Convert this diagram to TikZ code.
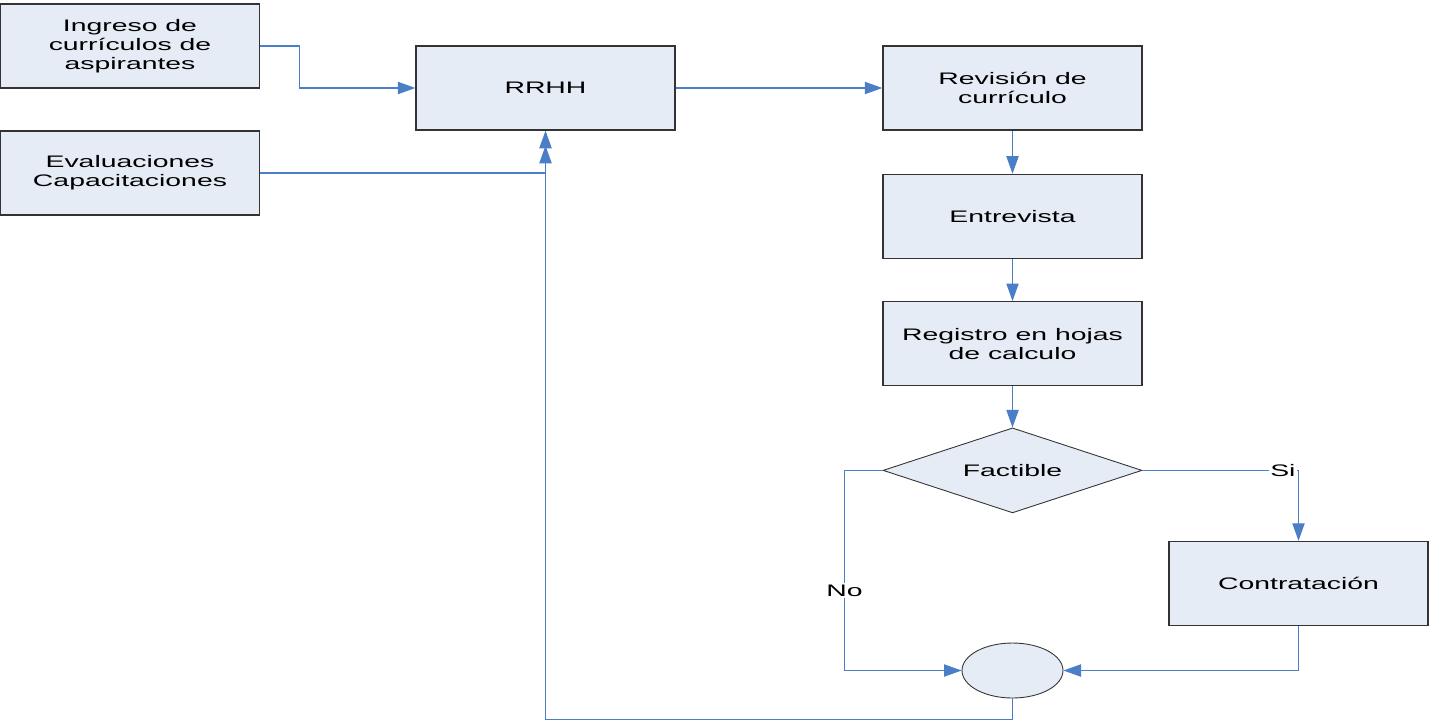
\documentclass[tikz,border=0pt]{standalone}
\usepackage{fontspec}
\setmainfont{Liberation Sans}[FakeStretch=1.7]
\usetikzlibrary{positioning}
\usetikzlibrary{shapes.geometric}
\usetikzlibrary{arrows.meta}

\definecolor{boxfill}{HTML}{E6ECF6}
\definecolor{flowblue}{HTML}{4A7EC6}

\tikzset{
    procbox/.style={draw=black!80, fill=boxfill, line width=0.8pt, minimum width=5.18cm, minimum height=1.68cm, align=center, inner sep=0pt},
    flow/.style={draw=flowblue, line width=0.6pt, -{Triangle[length=10pt, width=7pt]}},
    lbl/.style={fill=white, inner sep=1pt}
}

\begin{document}
\begin{tikzpicture}[x=0.02cm, y=-0.02cm, font=\fontsize{9.5}{10.8}\selectfont]
        \useasboundingbox (0,0) rectangle (1432,721);

        \node[procbox] (rrhh) at (545.5,88) {RRHH};
        \node[procbox] (ingreso) at (130,46) {Ingreso de\\currículos de\\aspirantes};
        \node[procbox] (eval) at (130,173) {Evaluaciones\\Capacitaciones};

        \node[procbox] (revision) at (1012.5,88) {Revisión de\\currículo};
        \node[procbox, below=0.86cm of revision] (entrevista) {Entrevista};
        \node[procbox, below=0.84cm of entrevista] (registro) {Registro en hojas\\de calculo};
        \node[diamond, procbox, line width=0.5pt, aspect=3, minimum height=1.7cm, below=0.82cm of registro] (factible) {Factible};
        \node[procbox] (contrata) at (1298.5,583.5) {Contratación};
        \node[ellipse, procbox, line width=0.5pt, minimum width=2.02cm, minimum height=1.1cm] (union) at (1012.5,670.5) {};

        % entradas a RRHH
        \draw[flow] (ingreso.east) -- ++(39,0) |- (rrhh.west);
        \draw[flow] (eval.east) -| (rrhh.south);
        \draw[flow] (rrhh.east) -- (revision.west);

        % proceso de seleccion
        \draw[flow] (revision) -- (entrevista);
        \draw[flow] (entrevista) -- (registro);
        \draw[flow] (registro) -- (factible);
        \draw[flow] (factible.east) -| node[lbl, pos=0.45] {Si} (contrata.north);
        \draw[flow] (factible.west) -- ++(-38,0) |- node[lbl, pos=0.3] {No} (union.west);
        \draw[flow] (contrata.south) |- (union.east);

        % retorno a RRHH
        \coordinate (rrhh port) at ([yshift=-15*0.02cm]rrhh.south);
        \draw[flow] (union.south) -- ++(0,21) -| (rrhh port);
    \end{tikzpicture}
\end{document}
